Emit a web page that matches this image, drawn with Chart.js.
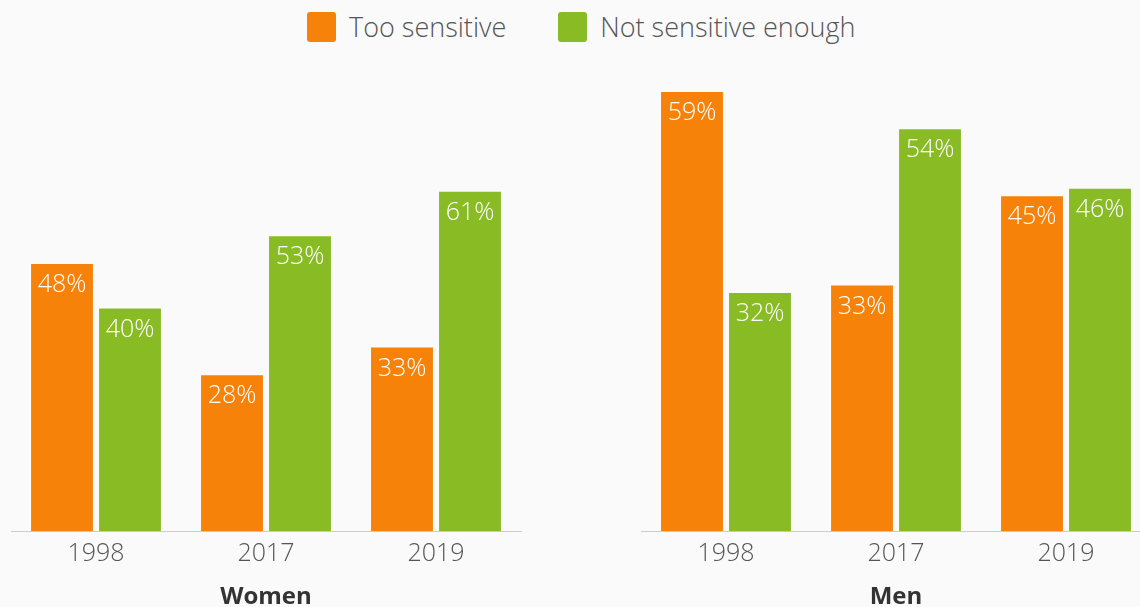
<!DOCTYPE html>
<html>
<head>
<meta charset="utf-8">
<script src="https://cdn.jsdelivr.net/npm/chart.js"></script>
<style>
  html, body {
    margin: 0;
    padding: 0;
    background: #fafafa;
    width: 1140px;
    height: 607px;
    overflow: hidden;
    font-family: "Open Sans", sans-serif;
  }
  #legend {
    position: absolute;
    top: 8px;
    left: 307px;
    display: flex;
    align-items: center;
    color: #555;
    font-size: 27px;
    font-weight: 300;
  }
  .item { display: flex; align-items: center; margin-right: 52px; }
  .swatch { width: 29px; height: 30px; border-radius: 3px; margin-right: 13px; }
  .box { position: absolute; top: 0; width: 532px; height: 615px; }
</style>
</head>
<body>
<div id="legend"></div>
<div class="box" style="left:0px"><canvas id="women"></canvas></div>
<div class="box" style="left:630px"><canvas id="men"></canvas></div>
<script>
const years = ['1998', '2017', '2019'];
const seriesNames = ['Too sensitive', 'Not sensitive enough'];
const seriesColors = ['#f7820a', '#89bc24'];

const womenTooSensitive = [48, 28, 33];
const womenNotEnough = [40, 53, 61];
const menTooSensitive = [59, 33, 45];
const menNotEnough = [32, 54, 46];

// legend
const legendDiv = document.getElementById('legend');
seriesNames.forEach((name, i) => {
  const item = document.createElement('div');
  item.className = 'item';
  const sw = document.createElement('span');
  sw.className = 'swatch';
  sw.style.background = seriesColors[i];
  item.appendChild(sw);
  item.appendChild(document.createTextNode(name));
  legendDiv.appendChild(item);
});

// white percent labels inside bar tops
const barLabels = {
  id: 'barLabels',
  afterDatasetsDraw(chart) {
    const ctx = chart.ctx;
    ctx.save();
    ctx.fillStyle = '#ffffff';
    ctx.font = '300 25px "Open Sans"';
    ctx.textAlign = 'center';
    ctx.textBaseline = 'middle';
    chart.data.datasets.forEach((ds, i) => {
      chart.getDatasetMeta(i).data.forEach((bar, j) => {
        ctx.fillText(ds.data[j] + '%', bar.x, bar.y + 21);
      });
    });
    ctx.restore();
  }
};

function makeChart(id, title, tooData, notData, yMax) {
  return new Chart(document.getElementById(id), {
    type: 'bar',
    data: {
      labels: years,
      datasets: [
        { label: seriesNames[0], data: tooData, backgroundColor: seriesColors[0] },
        { label: seriesNames[1], data: notData, backgroundColor: seriesColors[1] }
      ]
    },
    options: {
      responsive: true,
      maintainAspectRatio: false,
      animation: false,
      layout: { padding: { top: 92, left: 11, right: 11, bottom: 0 } },
      categoryPercentage: 0.8,
      barPercentage: 0.91,
      plugins: { legend: { display: false }, tooltip: { enabled: false } },
      scales: {
        x: {
          grid: { display: false, drawTicks: false },
          border: { display: true, color: '#cccccc', width: 1 },
          ticks: { color: '#555', font: { family: 'Open Sans', size: 25, weight: 300 }, padding: 8 },
          title: {
            display: true,
            text: title,
            color: '#333',
            font: { family: 'Open Sans', size: 24, weight: 'bold' },
            padding: { top: 6, bottom: 3 }
          }
        },
        y: { display: false, min: 0, max: yMax }
      }
    },
    plugins: [barLabels]
  });
}

makeChart('women', 'Women', womenTooSensitive, womenNotEnough, 78.9);
makeChart('men', 'Men', menTooSensitive, menNotEnough, 59);
</script>
</body>
</html>
